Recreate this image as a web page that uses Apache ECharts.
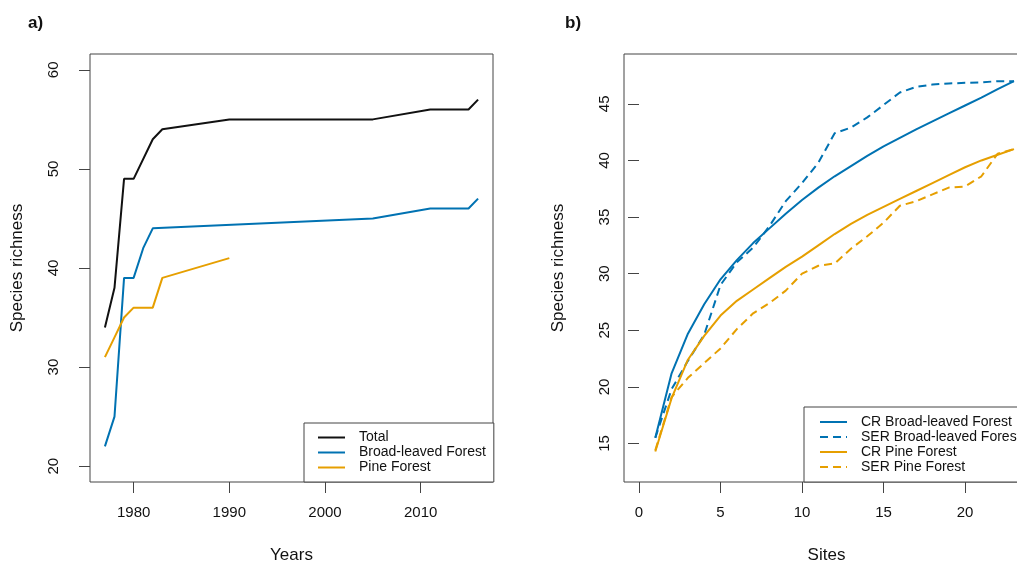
<!DOCTYPE html>
<html>
<head>
<meta charset="utf-8">
<title>Species richness</title>
<script src="https://cdn.jsdelivr.net/npm/echarts@6/dist/echarts.min.js"></script>
<style>
  html, body { margin: 0; padding: 0; background: #fff; }
  #chart { width: 1017px; height: 564px; }
</style>
</head>
<body>
<div id="chart"></div>
<script>
// Panel a) – richness over time
const totalYears = [1977, 1978, 1979, 1980, 1982, 1983, 1990, 2005, 2011, 2015, 2016];
const totalRichness = [34, 38, 49, 49, 53, 54, 55, 55, 56, 56, 57];
const broadYears = [1977, 1978, 1979, 1980, 1981, 1982, 2005, 2011, 2015, 2016];
const broadRichness = [22, 25, 39, 39, 42, 44, 45, 46, 46, 47];
const pineYears = [1977, 1978, 1979, 1980, 1982, 1983, 1990];
const pineRichness = [31, 33, 35, 36, 36, 39, 41];
const yearTicks = [1980, 1990, 2000, 2010];
const richTicksA = [20, 30, 40, 50, 60];

// Panel b) – accumulation over sites
const sites = [1, 2, 3, 4, 5, 6, 7, 8, 9, 10, 11, 12, 13, 14, 15, 16, 17, 18, 19, 20, 21, 22, 23];
const crBroad = [15.5, 21.2, 24.7, 27.3, 29.5, 31.2, 32.7, 34.0, 35.3, 36.5, 37.6, 38.6, 39.5, 40.4, 41.25, 42.0, 42.75, 43.45, 44.15, 44.85, 45.55, 46.3, 47.0];
const serBroad = [15.5, 19.8, 22.3, 24.6, 29.0, 31.0, 32.3, 34.2, 36.4, 38.0, 39.8, 42.4, 42.9, 43.8, 44.9, 46.0, 46.5, 46.7, 46.8, 46.85, 46.9, 47.0, 47.0];
const crPine = [14.3, 19.0, 22.4, 24.5, 26.3, 27.6, 28.6, 29.6, 30.6, 31.5, 32.5, 33.5, 34.4, 35.2, 35.9, 36.6, 37.3, 38.0, 38.7, 39.4, 40.0, 40.5, 41.0];
const serPine = [14.4, 19.1, 20.8, 22.1, 23.4, 25.1, 26.5, 27.4, 28.5, 30.0, 30.7, 30.9, 32.2, 33.3, 34.5, 36.0, 36.4, 37.0, 37.6, 37.7, 38.6, 40.6, 41.0];
const siteTicks = [0, 5, 10, 15, 20];
const richTicksB = [15, 20, 25, 30, 35, 40, 45];

const BLUE = '#0072B2';
const ORANGE = '#E69F00';
const FONT = 'Liberation Sans, Arial, sans-serif';
const AXIS = '#444';

const pairs = (xs, ys) => xs.map((x, i) => [x, ys[i]]);

function valueAxis(min, max, ticks, extra) {
  return Object.assign({
    type: 'value',
    min: min,
    max: max,
    axisLine: { show: false },
    splitLine: { show: false },
    axisTick: { show: true, length: 11, lineStyle: { color: AXIS, width: 1 }, customValues: ticks },
    axisLabel: {
      customValues: ticks,
      fontSize: 15,
      fontFamily: FONT,
      color: '#111',
      formatter: v => String(v)
    },
    nameTextStyle: { fontSize: 17, fontFamily: FONT, color: '#111' },
    nameLocation: 'middle'
  }, extra);
}

function lineSeries(name, data, color, xi, dashed) {
  return {
    name: name,
    type: 'line',
    xAxisIndex: xi,
    yAxisIndex: xi,
    data: data,
    symbol: 'none',
    smooth: false,
    lineStyle: { color: color, width: 2, type: dashed ? [8, 5] : 'solid' },
    itemStyle: { color: color },
    emphasis: { disabled: true },
    z: 3
  };
}

const chart = echarts.init(document.getElementById('chart'), null, { renderer: 'canvas' });

const xa = valueAxis(1975.44, 2017.56, yearTicks, { gridIndex: 0, name: 'Years', nameGap: 65 });
xa.axisLabel.margin = 23;
const ya = valueAxis(18.4, 61.6, richTicksA, { gridIndex: 0, name: 'Species richness', nameGap: 64 });
ya.axisLabel.rotate = 90;
ya.axisLabel.margin = 29;

const xb = valueAxis(-0.92, 23.92, siteTicks, { gridIndex: 1, name: 'Sites', nameGap: 65 });
xb.axisLabel.margin = 23;
const yb = valueAxis(11.6, 49.4, richTicksB, { gridIndex: 1, name: 'Species richness', nameGap: 57 });
yb.axisLabel.rotate = 90;
yb.axisLabel.margin = 12;

// legend keys show only the line sample, no marker
const legendBase = {
  orient: 'vertical',
  itemWidth: 27,
  itemHeight: 14,
  itemGap: 1,
  borderColor: AXIS,
  borderWidth: 1,
  borderRadius: 0,
  backgroundColor: '#fff',
  selectedMode: false,
  itemStyle: { opacity: 0 },
  lineStyle: { width: 2, opacity: 1 },
  textStyle: { fontSize: 14, fontFamily: FONT, color: '#111', padding: [0, 0, 0, 9] }
};

const gridBase = {
  top: 54,
  height: 428,
  show: true,
  borderColor: AXIS,
  borderWidth: 1,
  backgroundColor: 'transparent',
  containLabel: false,
  outerBoundsMode: 'none'
};

chart.setOption({
  animation: false,
  backgroundColor: '#fff',
  title: [
    { text: 'a)', left: 28, top: 15, padding: 0, textStyle: { fontSize: 17, fontWeight: 'bold', fontFamily: FONT, color: '#111' } },
    { text: 'b)', left: 565, top: 15, padding: 0, textStyle: { fontSize: 17, fontWeight: 'bold', fontFamily: FONT, color: '#111' } }
  ],
  grid: [
    Object.assign({}, gridBase, { left: 90, width: 403 }),
    Object.assign({}, gridBase, { left: 624, width: 405 })
  ],
  xAxis: [xa, xb],
  yAxis: [ya, yb],
  legend: [
    Object.assign({}, legendBase, {
      left: 304, top: 423,
      padding: [7.5, 8, 7.5, 13],
      data: ['Total', 'Broad-leaved Forest', 'Pine Forest']
    }),
    Object.assign({}, legendBase, {
      left: 804, top: 407,
      padding: [8, 8, 8, 15],
      data: ['CR Broad-leaved Forest', 'SER Broad-leaved Forest', 'CR Pine Forest', 'SER Pine Forest']
    })
  ],
  series: [
    lineSeries('Total', pairs(totalYears, totalRichness), '#111', 0, false),
    lineSeries('Broad-leaved Forest', pairs(broadYears, broadRichness), BLUE, 0, false),
    lineSeries('Pine Forest', pairs(pineYears, pineRichness), ORANGE, 0, false),
    lineSeries('CR Broad-leaved Forest', pairs(sites, crBroad), BLUE, 1, false),
    lineSeries('SER Broad-leaved Forest', pairs(sites, serBroad), BLUE, 1, true),
    lineSeries('CR Pine Forest', pairs(sites, crPine), ORANGE, 1, false),
    lineSeries('SER Pine Forest', pairs(sites, serPine), ORANGE, 1, true)
  ]
});
</script>
</body>
</html>
